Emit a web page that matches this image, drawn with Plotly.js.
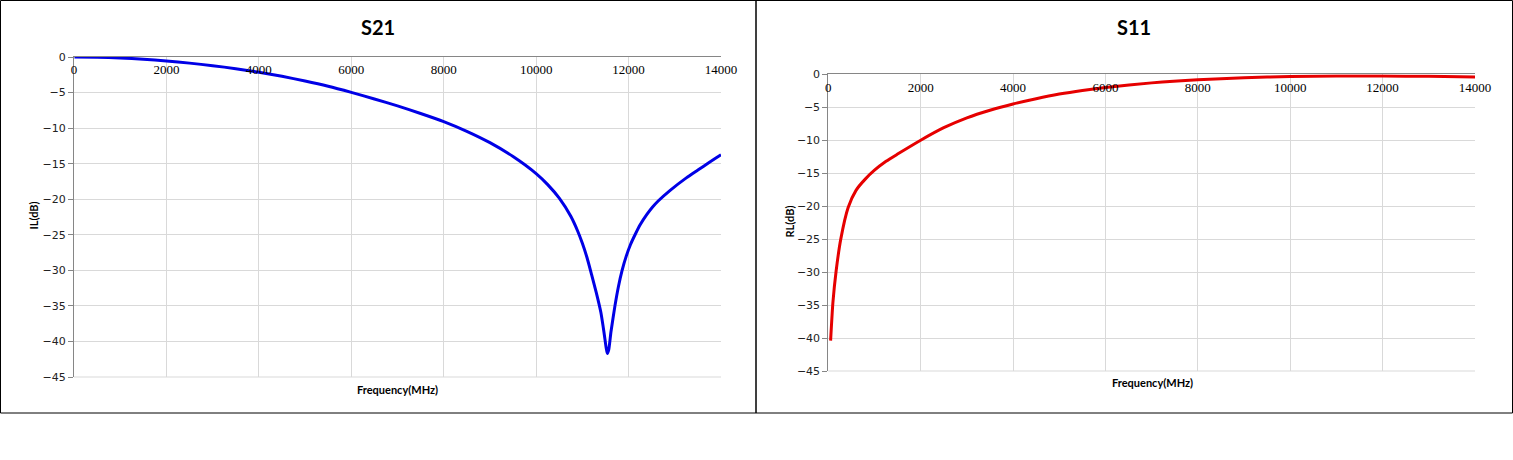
<!DOCTYPE html>
<html>
<head>
<meta charset="utf-8">
<script src="https://cdn.plot.ly/plotly-3.0.1.min.js"></script>
<style>
  html, body { margin: 0; padding: 0; background: #fff; }
  #plotDiv { width: 1513px; height: 460px; }
</style>
</head>
<body>
<div id="plotDiv"></div>
<script>
/* ---------- data ---------- */

const s21Freq = [10, 500, 1000, 1500, 2000, 2500, 3000, 3500, 4000, 4500, 5000, 5500, 6000, 6500,
    7000, 7500, 8000, 8500, 9000, 9500, 10000, 10250, 10500, 10750, 10900, 11000, 11100, 11200,
    11300, 11400, 11470, 11515, 11541, 11570, 11620, 11705, 11780, 11860, 11950, 12040, 12140,
    12250, 12400, 12520, 12640, 12900, 13250, 13500, 13750, 14000];
const s21Loss = [0, -0.035, -0.14, -0.32, -0.56, -0.86, -1.22, -1.64, -2.14, -2.72, -3.38, -4.12, -4.98, -5.9,
    -6.88, -7.94, -9.08, -10.45, -12.05, -14.0, -16.4, -17.95, -19.85, -22.4, -24.5, -26.2, -28.2, -30.6,
    -33.1, -35.9, -38.8, -40.9, -41.7, -41.2, -38.6, -35.0, -32.3, -30.0, -28.0, -26.4, -25.0,
    -23.6, -22.1, -21.1, -20.25, -18.75, -17.0, -15.9, -14.8, -13.75];

const s11Freq = [50, 100, 170, 270, 430, 600, 800, 1000, 1250, 1500, 2000, 2500, 3000, 3500, 4000, 4500,
    5000, 5500, 6000, 7000, 8000, 9000, 10000, 11000, 12000, 13000, 14000];
const s11Loss = [-40.4, -34.6, -29.8, -25.0, -20.2, -17.6, -15.9, -14.55, -13.2, -12.1, -10.0, -8.1, -6.6, -5.45, -4.5, -3.7,
    -3.0, -2.45, -2.0, -1.3, -0.82, -0.52, -0.35, -0.27, -0.26, -0.31, -0.42];

const panelTitles = ['S21', 'S11'];
const yTitles = ['IL(dB)', 'RL(dB)'];
const xTitle = 'Frequency(MHz)';

/* ---------- layout helpers (pixel -> paper) ---------- */

const W = 1513, H = 460;
const px = x => x / W;
const py = y => 1 - y / H;

const GRID = '#d9d9d9';
const AXIS = '#868686';
const SANS = 'DejaVu Sans, Verdana, sans-serif';
const BOLD = 'Lato, Open Sans, sans-serif';

function xAxis(domain, anchor) {
    return {
        domain,
        anchor,
        range: [0, 14000],
        dtick: 2000,
        tickformat: 'd',
        side: 'top',
        ticks: '',
        ticklabelposition: 'inside',
        ticklabeloverflow: 'allow',
        ticklabelstandoff: 8,
        tickfont: { family: 'Liberation Serif, Times New Roman, serif', size: 13, color: '#000' },
        showline: true,
        linecolor: AXIS,
        linewidth: 1,
        showgrid: true,
        gridcolor: GRID,
        gridwidth: 1,
        zeroline: false,
        fixedrange: true,
    };
}

function yAxis(domain, anchor) {
    return {
        domain,
        anchor,
        range: [-45, 0],
        tick0: 0,
        dtick: 5,
        ticks: 'outside',
        ticklen: 5,
        tickcolor: AXIS,
        tickfont: { family: SANS, size: 11, color: '#222' },
        showline: true,
        linecolor: AXIS,
        linewidth: 1,
        showgrid: true,
        gridcolor: GRID,
        gridwidth: 1,
        zeroline: false,
        fixedrange: true,
    };
}

const data = [
    {
        type: 'scatter',
        mode: 'lines',
        x: s21Freq,
        y: s21Loss,
        xaxis: 'x',
        yaxis: 'y',
        line: { color: '#0000e6', width: 3, shape: 'spline', smoothing: 0.6 },
        hoverinfo: 'skip',
    },
    {
        type: 'scatter',
        mode: 'lines',
        x: s11Freq,
        y: s11Loss,
        xaxis: 'x2',
        yaxis: 'y2',
        line: { color: '#e60000', width: 3, shape: 'spline', smoothing: 0.6 },
        hoverinfo: 'skip',
    },
];

const text = (t, x, y, opts) => ({
    text: t,
    xref: 'paper',
    yref: 'paper',
    x: px(x),
    y: py(y),
    showarrow: false,
    xanchor: 'center',
    yanchor: 'middle',
    ...opts,
});

// bottom gridline (-45) is clipped by plotly at the range edge, so draw it as a shape
const bottomGrid = (xr, yr) => ({
    type: 'line', xref: xr + ' domain', yref: yr + ' domain', x0: 0, x1: 1, y0: 0, y1: 0,
    layer: 'below', line: { color: GRID, width: 1 },
});

const layout = {
    width: W,
    height: H,
    margin: { l: 0, r: 0, t: 0, b: 0 },
    paper_bgcolor: '#fff',
    plot_bgcolor: '#fff',
    showlegend: false,
    xaxis: xAxis([px(74), px(721)], 'y'),
    yaxis: yAxis([py(377), py(57)], 'x'),
    xaxis2: xAxis([px(828.3), px(1475)], 'y2'),
    yaxis2: yAxis([py(371), py(74.3)], 'x2'),
    shapes: [
        bottomGrid('x', 'y'),
        bottomGrid('x2', 'y2'),
        { type: 'rect', xref: 'paper', yref: 'paper', x0: px(0.5), x1: px(756), y0: py(413), y1: py(0.5),
          line: { color: '#000', width: 1 } },
        { type: 'rect', xref: 'paper', yref: 'paper', x0: px(756), x1: px(1512.5), y0: py(413), y1: py(0.5),
          line: { color: '#000', width: 1 } },
    ],
    annotations: [
        text(panelTitles[0], 378, 27, { font: { family: BOLD, size: 20, color: '#000', weight: 'bold' } }),
        text(panelTitles[1], 1134, 27, { font: { family: BOLD, size: 20, color: '#000', weight: 'bold' } }),
        text(yTitles[0], 33.5, 216, { textangle: -90, font: { family: BOLD, size: 11, color: '#000', weight: 'bold' } }),
        text(yTitles[1], 788.5, 222, { textangle: -90, font: { family: BOLD, size: 11, color: '#000', weight: 'bold' } }),
        text(xTitle, 397, 389, { font: { family: BOLD, size: 11, color: '#000', weight: 'bold' } }),
        text(xTitle, 1152, 382, { font: { family: BOLD, size: 11, color: '#000', weight: 'bold' } }),
    ],
};

Plotly.newPlot('plotDiv', data, layout, { displayModeBar: false, staticPlot: true });
</script>
</body>
</html>
